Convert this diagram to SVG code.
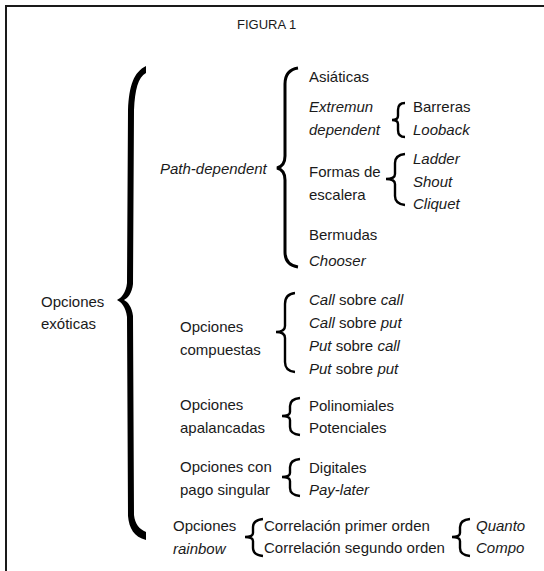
<svg xmlns="http://www.w3.org/2000/svg" width="544" height="571" viewBox="0 0 544 571">
<style>
text{font-family:"Liberation Sans",Arial,sans-serif;font-size:15px;fill:#1a1a1a}
.i{font-style:italic}
.br{fill:none;stroke:#000;stroke-width:2.4;stroke-linecap:butt}
.frame{fill:none;stroke:#1a1a1a;stroke-width:2}
</style>
<rect width="544" height="571" fill="#fff"/>
<path class="frame" d="M6,571 V6 H544"/>
<text x="237" y="29" style="font-size:13px">FIGURA 1</text>

<g id="connectors">
<path id="brace-main" fill="#000" d="M146,66 L146,73 C138,77 135,90 134,110 L133,284 C132,293 128,298 124,300 C128,302 132,307 133,316 L134,515 C135,524 139,529 146,532 L146,540 C134,537 129,528 128,516 L127,317 C126,307 121,302 117,300 C121,298 126,293 127,283 L128,110 C129,85 134,72 146,66 Z"/>
<path class="br" style="stroke-width:3" d="M298,68 Q285,70 285,84 L285,156 Q285,166 277,168 Q285,170 285,180 L285,252 Q285,265 298,267"/>
<path class="br" d="M405,103 Q398,103 398,110 L398,116 Q398,120 392,120 Q398,120 398,124 L398,130 Q398,137 405,137"/>
<path class="br" d="M405,154 Q395,155 395,163 L395,174 Q395,179 386,179 Q395,179 395,184 L395,196 Q395,204 405,205"/>
<path class="br" d="M295,293 Q285,294 285,304 L285,326 Q285,332 276,332 Q285,332 285,338 L285,362 Q285,371 295,372"/>
<path class="br" d="M300,398 Q290,399 290,406 L290,412 Q290,416 282,416 Q290,416 290,420 L290,427 Q290,434 300,435"/>
<path class="br" d="M300,459 Q290,460 290,467 L290,473 Q290,477 282,477 Q290,477 290,481 L290,488 Q290,495 300,496"/>
<path class="br" d="M263,519 Q253,520 253,527 L253,533 Q253,537 245,537 Q253,537 253,541 L253,548 Q253,555 263,556"/>
<path class="br" d="M470,519 Q460,520 460,527 L460,533 Q460,537 452,537 Q460,537 460,541 L460,548 Q460,555 470,556"/>
</g>

<g id="n-root"><text x="41" y="307">Opciones</text><text x="41" y="329">exóticas</text></g>
<g id="n-path"><text x="160" y="174" class="i">Path-dependent</text></g>
<g id="n-asiaticas"><text x="309" y="82">Asiáticas</text></g>
<g id="n-extremun"><text x="309" y="112" class="i">Extremun</text><text x="309" y="135" class="i">dependent</text></g>
<g id="n-barreras"><text x="413" y="112">Barreras</text></g>
<g id="n-looback"><text x="413" y="135" class="i">Looback</text></g>
<g id="n-formas"><text x="309" y="177">Formas de</text><text x="309" y="200">escalera</text></g>
<g id="n-ladder"><text x="413" y="164" class="i">Ladder</text></g>
<g id="n-shout"><text x="413" y="187" class="i">Shout</text></g>
<g id="n-cliquet"><text x="413" y="209" class="i">Cliquet</text></g>
<g id="n-bermudas"><text x="309" y="240">Bermudas</text></g>
<g id="n-chooser"><text x="309" y="266" class="i">Chooser</text></g>
<g id="n-compuestas"><text x="180" y="332">Opciones</text><text x="180" y="355">compuestas</text></g>
<g id="n-cc"><text x="309" y="305"><tspan class="i">Call</tspan> sobre <tspan class="i">call</tspan></text></g>
<g id="n-cp"><text x="309" y="328"><tspan class="i">Call</tspan> sobre <tspan class="i">put</tspan></text></g>
<g id="n-pc"><text x="309" y="351"><tspan class="i">Put</tspan> sobre <tspan class="i">call</tspan></text></g>
<g id="n-pp"><text x="309" y="374"><tspan class="i">Put</tspan> sobre <tspan class="i">put</tspan></text></g>
<g id="n-apalancadas"><text x="180" y="410">Opciones</text><text x="180" y="433">apalancadas</text></g>
<g id="n-polinomiales"><text x="309" y="411">Polinomiales</text></g>
<g id="n-potenciales"><text x="309" y="433">Potenciales</text></g>
<g id="n-singular"><text x="180" y="472">Opciones con</text><text x="180" y="495">pago singular</text></g>
<g id="n-digitales"><text x="309" y="473">Digitales</text></g>
<g id="n-paylater"><text x="309" y="495" class="i">Pay-later</text></g>
<g id="n-rainbow"><text x="173" y="531">Opciones</text><text x="173" y="554" class="i">rainbow</text></g>
<g id="n-primer"><text x="264" y="531">Correlación primer orden</text></g>
<g id="n-segundo"><text x="264" y="553">Correlación segundo orden</text></g>
<g id="n-quanto"><text x="476" y="531" class="i">Quanto</text></g>
<g id="n-compo"><text x="476" y="553" class="i">Compo</text></g>
</svg>
